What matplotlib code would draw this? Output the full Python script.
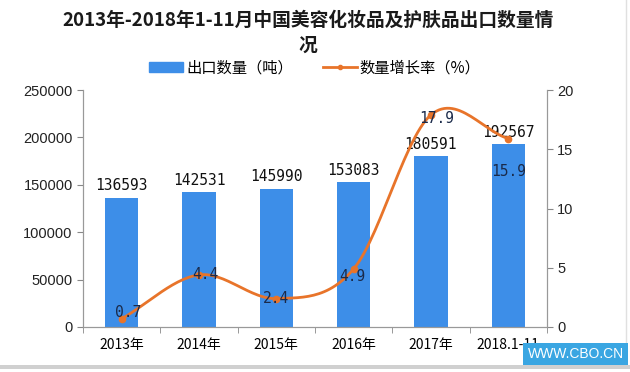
import numpy as np
import matplotlib
matplotlib.use("Agg")
import matplotlib.pyplot as plt
from matplotlib.patches import Patch, Rectangle
from matplotlib.lines import Line2D

plt.rcParams['font.family'] = ['Noto Sans CJK SC', 'DejaVu Sans']

categories = ["2013年", "2014年", "2015年", "2016年", "2017年", "2018.1-11"]
export_qty = [136593, 142531, 145990, 153083, 180591, 192567]
growth = [0.7, 4.4, 2.4, 4.9, 17.9, 15.9]
title = "2013年-2018年1-11月中国美容化妆品及护肤品出口数量情\n况"

bar_color = "#3d8ee8"
line_color = "#e8742a"
num_font = ['DejaVu Sans Mono', 'DejaVu Sans']

fig = plt.figure(figsize=(6.30, 3.72), dpi=100)
ax = fig.add_axes([0.132, 0.121, 0.736, 0.637])
ax2 = ax.twinx()

x = np.arange(len(categories))
ax.bar(x, export_qty, width=0.43, color=bar_color, zorder=2)
ax.set_ylim(0, 250000)
ax.set_yticks(np.arange(0, 250001, 50000))
ax.set_xlim(-0.5, len(categories) - 0.5)
ax.set_xticks(x)
ax.set_xticklabels(categories, fontsize=10)
ax.tick_params(axis='y', labelsize=10.5, colors='#222222', length=4, color='#888888')
ax.tick_params(axis='x', length=0, pad=8)
for lbl in ax.get_yticklabels():
    lbl.set_family(['Liberation Sans', 'DejaVu Sans'])
ax.set_xticks(np.arange(-0.5, len(categories), 1), minor=True)
ax.tick_params(axis='x', which='minor', length=4, color='#888888')

for xi, v in zip(x, export_qty):
    ax.text(xi, v + 4500, str(v), ha='center', va='bottom', fontsize=10.5,
            family=num_font, color='#111111')

# smooth line (Catmull-Rom drawing between the data points)
def catmull(xs, ys, n=30):
    xs = np.asarray(xs, float); ys = np.asarray(ys, float)
    px = np.concatenate([[2*xs[0]-xs[1]], xs, [2*xs[-1]-xs[-2]]])
    py = np.concatenate([[2*ys[0]-ys[1]], ys, [2*ys[-1]-ys[-2]]])
    outx, outy = [], []
    for i in range(1, len(px) - 2):
        t = np.linspace(0, 1, n)
        p0, p1, p2, p3 = [np.array([px[j], py[j]]) for j in (i-1, i, i+1, i+2)]
        t2, t3 = t*t, t*t*t
        pts = 0.5*((2*p1)[:, None] + (-p0 + p2)[:, None]*t + (2*p0 - 5*p1 + 4*p2 - p3)[:, None]*t2
                   + (-p0 + 3*p1 - 3*p2 + p3)[:, None]*t3)
        outx.extend(pts[0]); outy.extend(pts[1])
    return np.array(outx), np.array(outy)

sx, sy = catmull(x, growth)
ax2.plot(sx, sy, color=line_color, lw=2, zorder=3)
ax2.plot(x, growth, 'o', color=line_color, ms=4.5, zorder=4)
ax2.set_ylim(0, 20)
ax2.set_yticks(np.arange(0, 21, 5))
ax2.tick_params(axis='y', labelsize=10.5, colors='#222222', length=4, color='#888888')
for lbl in ax2.get_yticklabels():
    lbl.set_family(['Liberation Sans', 'DejaVu Sans'])

offsets = [(0.08, 0.5), (0.08, 0.0), (0.0, 0.0), (-0.02, -0.6), (0.08, -0.3), (0.0, -2.8)]
for xi, g, (dx, dy) in zip(x, growth, offsets):
    ax2.text(xi + dx, g + dy, f"{g}", ha='center', va='center', fontsize=10.5,
             family=num_font, color='#1a2a4a', zorder=5)

for a in (ax, ax2):
    a.spines['top'].set_visible(False)
    for s in ('left', 'right', 'bottom'):
        a.spines[s].set_color('#999999')
ax.set_zorder(ax2.get_zorder() - 1)
ax.patch.set_visible(False)

fig.text(0.489, 0.972, title, ha='center', va='top', fontsize=13.5, fontweight='bold',
         linespacing=1.4, color='#1a1a1a')

handles = [Patch(color=bar_color), Line2D([0], [0], color=line_color, lw=2, marker='o', ms=3)]
fig.legend(handles, ["出口数量（吨）", "数量增长率（%）"], loc='center', bbox_to_anchor=(0.5, 0.818),
           ncol=2, frameon=False, fontsize=11, handlelength=2.2, columnspacing=2.0,
           handletextpad=0.2, borderpad=0.2)

fig.add_artist(Rectangle((0, 0.008), 1, 0.012, transform=fig.transFigure,
                         color='#d0d0d0', lw=0))
fig.add_artist(Line2D([0.993, 0.993], [0.03, 1.0], transform=fig.transFigure,
                      color='#e0e0e0', lw=1))
fig.text(0.99, 0.03, "WWW.CBO.CN", ha='right', va='bottom', fontsize=10, color='white',
         family=['Liberation Sans'],
         bbox=dict(boxstyle='square,pad=0.3', fc='#3aa6e2', ec='none'))

fig.savefig("out.png", dpi=100)
